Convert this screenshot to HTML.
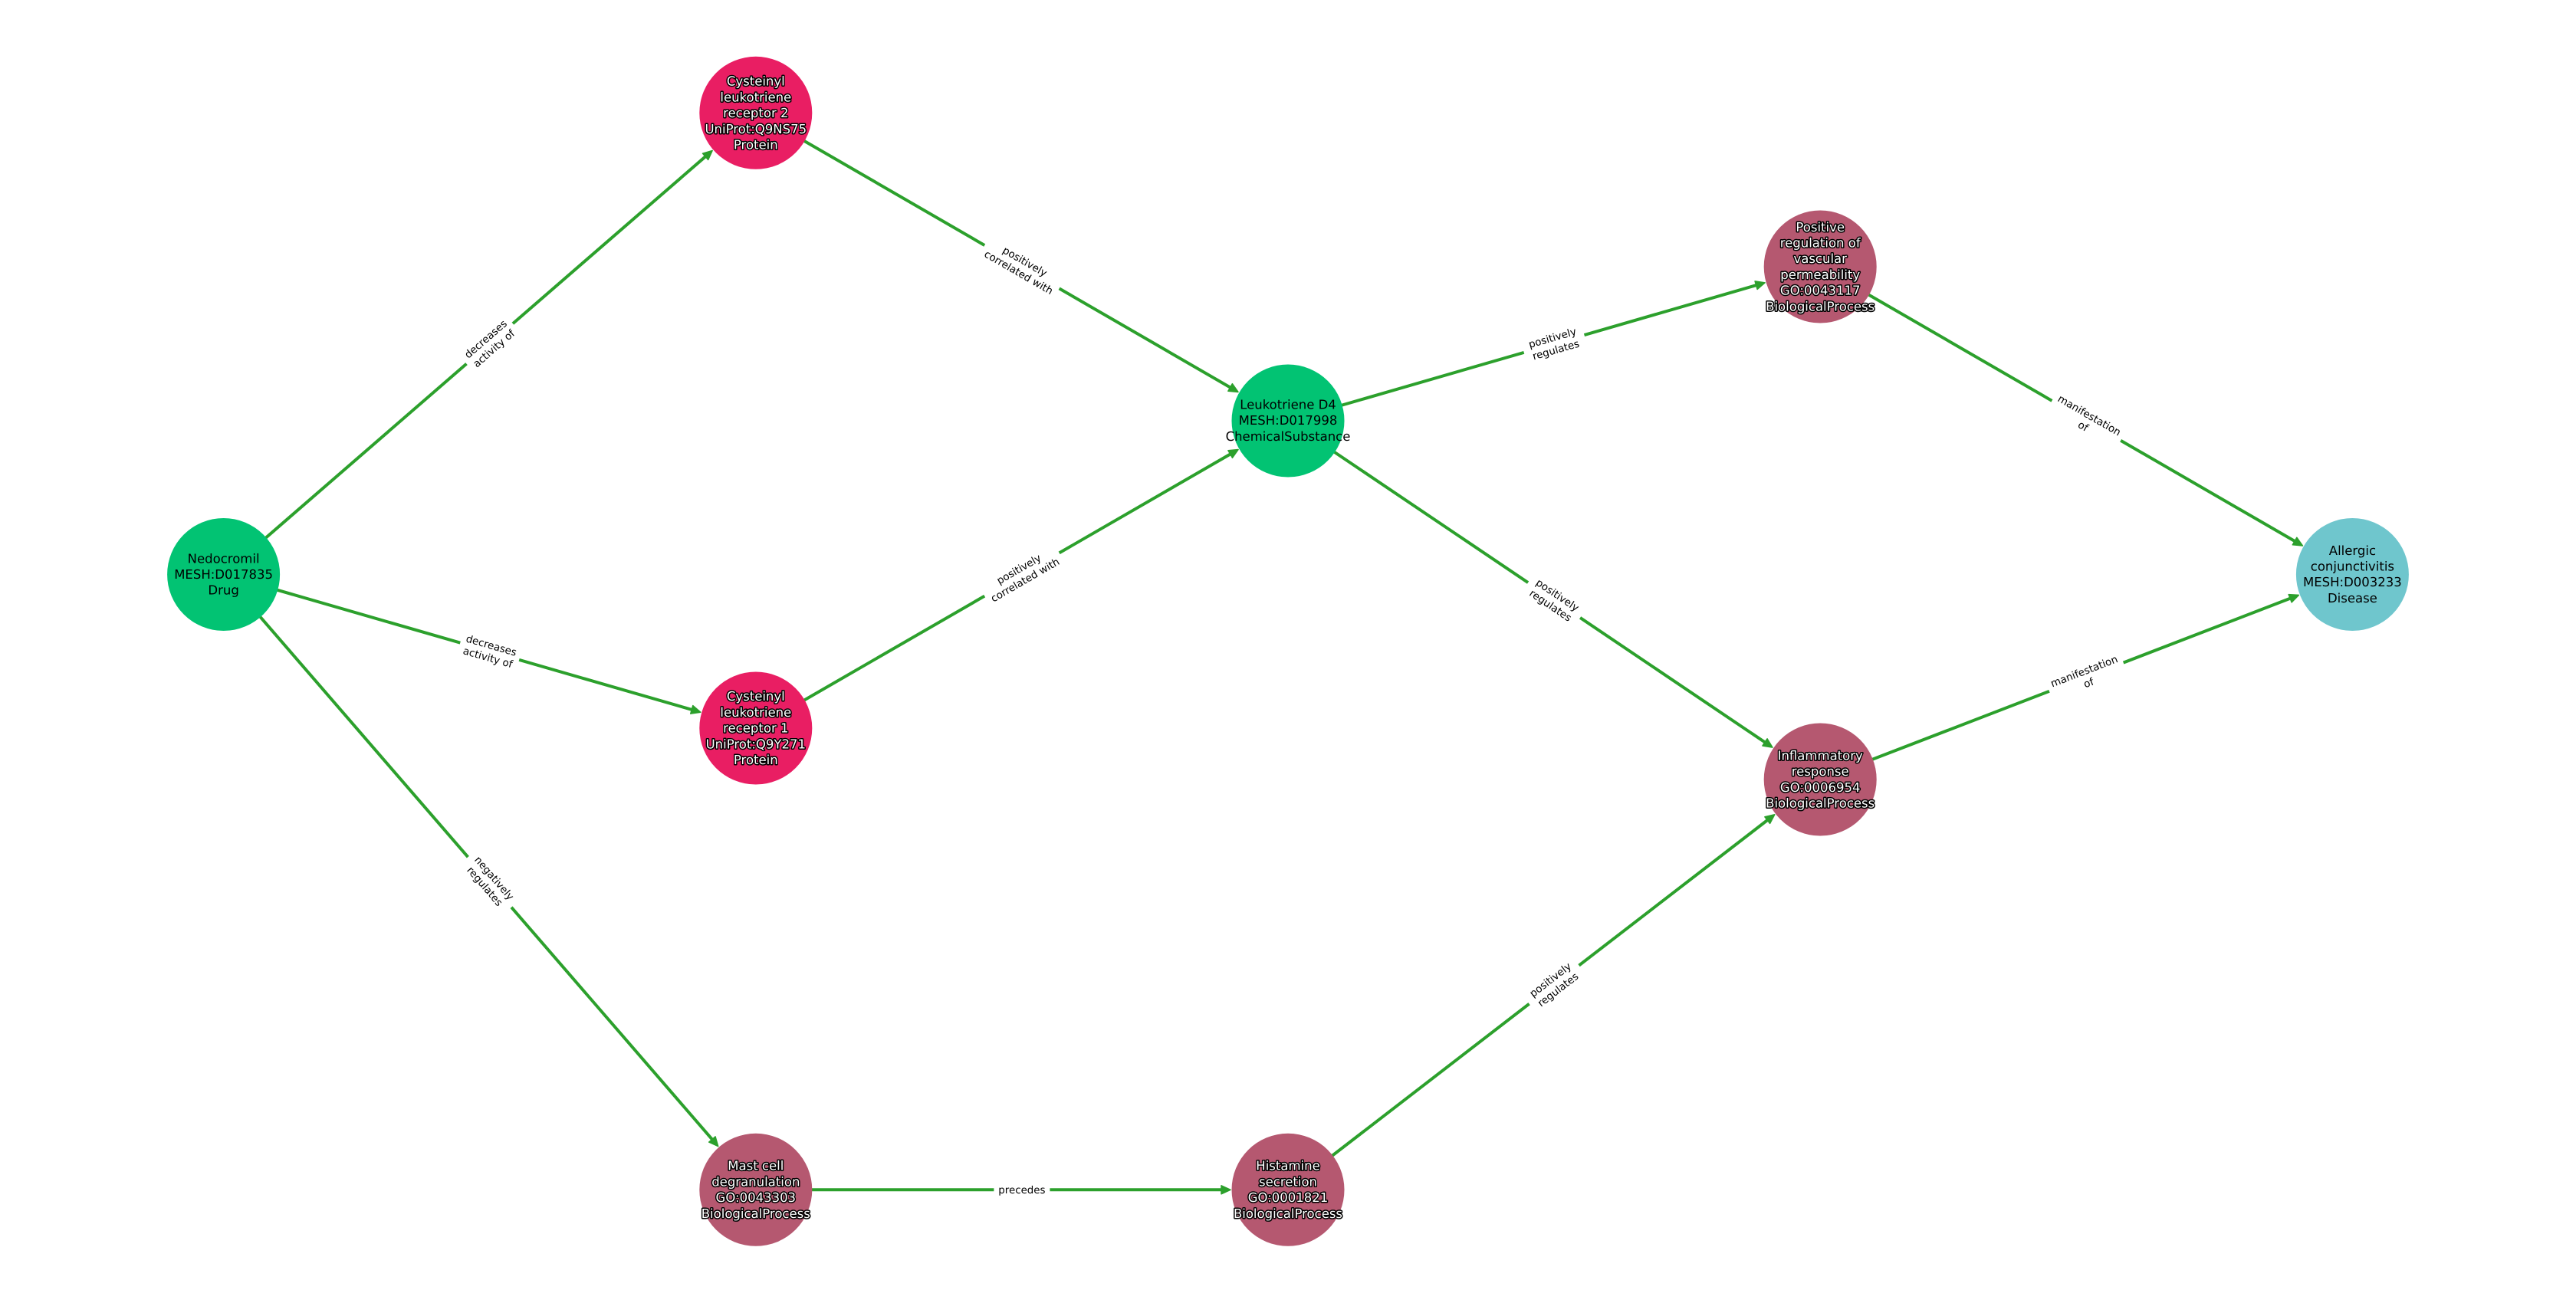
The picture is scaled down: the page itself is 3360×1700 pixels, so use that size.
<!DOCTYPE html>
<html><head><meta charset="utf-8"><style>
html,body{margin:0;padding:0;background:#fff}
svg{display:block}
text{font-family:"DejaVu Sans","Liberation Sans",sans-serif;text-anchor:middle;text-rendering:geometricPrecision}
.n{font-size:16.5px;fill:#000}
.o{font-size:16.5px;fill:#fff;stroke:#000;stroke-width:3px;paint-order:stroke;stroke-linejoin:round}
.e{font-size:13.4px;fill:#000}
.l{stroke:#2ca02c;stroke-width:4;fill:none}
.a{fill:#2ca02c;stroke:#2ca02c;stroke-width:1.5;stroke-linejoin:round}
</style></head><body>
<svg width="3360" height="1700" viewBox="0 0 3360 1700" xmlns="http://www.w3.org/2000/svg">
<rect width="3360" height="1700" fill="#fff"/>

<g transform="translate(291.6 749.5) rotate(-40.94)">
<path class="l" d="M0 0H836"/><polygon class="a" points="844,0 832,-5.5 832,5.5"/>
<rect x="419.5" y="-19" width="80" height="38" fill="#fff"/>
<text class="e" transform="translate(459.5 0)"><tspan x="0" y="-3.4">decreases</tspan><tspan x="0" y="12.9">activity of</tspan></text></g>

<g transform="translate(291.6 749.5) rotate(16.11)">
<path class="l" d="M0 0H640"/><polygon class="a" points="647.6,0 635.6,-5.5 635.6,5.5"/>
<rect x="321.3" y="-19" width="80" height="38" fill="#fff"/>
<text class="e" transform="translate(361.3 0)"><tspan x="0" y="-3.4">decreases</tspan><tspan x="0" y="12.9">activity of</tspan></text></g>

<g transform="translate(291.6 749.5) rotate(49.15)">
<path class="l" d="M0 0H978"/><polygon class="a" points="986.3,0 974.3,-5.5 974.3,5.5"/>
<rect x="487.35" y="-19" width="86.6" height="38" fill="#fff"/>
<text class="e" transform="translate(530.65 0)"><tspan x="0" y="-3.4">negatively</tspan><tspan x="0" y="12.9">regulates</tspan></text></g>

<g transform="translate(985.8 147.3) rotate(30.06)">
<path class="l" d="M0 0H719"/><polygon class="a" points="727,0 715,-5.5 715,5.5"/>
<rect x="344.8" y="-19" width="112.5" height="38" fill="#fff"/>
<text class="e" transform="translate(401 0)"><tspan x="0" y="-3.4">positively</tspan><tspan x="0" y="12.9">correlated with</tspan></text></g>

<g transform="translate(985.8 950) rotate(-30.01)">
<path class="l" d="M0 0H719"/><polygon class="a" points="726.7,0 714.7,-5.5 714.7,5.5"/>
<rect x="344.6" y="-19" width="112.5" height="38" fill="#fff"/>
<text class="e" transform="translate(400.85 0)"><tspan x="0" y="-3.4">positively</tspan><tspan x="0" y="12.9">correlated with</tspan></text></g>

<g transform="translate(985.8 1552.3)">
<path class="l" d="M0 0H611"/><polygon class="a" points="619.2,0 607.2,-5.5 607.2,5.5"/>
<rect x="310.6" y="-12" width="73" height="24" fill="#fff"/>
<text class="e" x="347.1" y="4.9">precedes</text></g>

<g transform="translate(1680 549) rotate(-16.15)">
<path class="l" d="M0 0H640"/><polygon class="a" points="647.7,0 635.7,-5.5 635.7,5.5"/>
<rect x="320.35" y="-19" width="82" height="38" fill="#fff"/>
<text class="e" transform="translate(361.35 0)"><tspan x="0" y="-3.4">positively</tspan><tspan x="0" y="12.9">regulates</tspan></text></g>

<g transform="translate(1680 549) rotate(33.99)">
<path class="l" d="M0 0H754"/><polygon class="a" points="762.2,0 750.2,-5.5 750.2,5.5"/>
<rect x="377.6" y="-19" width="82" height="38" fill="#fff"/>
<text class="e" transform="translate(418.6 0)"><tspan x="0" y="-3.4">positively</tspan><tspan x="0" y="12.9">regulates</tspan></text></g>

<g transform="translate(1680 1552.3) rotate(-37.64)">
<path class="l" d="M0 0H793"/><polygon class="a" points="801.6,0 789.6,-5.5 789.6,5.5"/>
<rect x="397.3" y="-19" width="82" height="38" fill="#fff"/>
<text class="e" transform="translate(438.3 0)"><tspan x="0" y="-3.4">positively</tspan><tspan x="0" y="12.9">regulates</tspan></text></g>

<g transform="translate(2374.2 348) rotate(30.05)">
<path class="l" d="M0 0H719"/><polygon class="a" points="727,0 715,-5.5 715,5.5"/>
<rect x="349.2" y="-19" width="103.6" height="38" fill="#fff"/>
<text class="e" transform="translate(401 0)"><tspan x="0" y="-3.4">manifestation</tspan><tspan x="0" y="12.9">of</tspan></text></g>

<g transform="translate(2374.2 1017) rotate(-21.08)">
<path class="l" d="M0 0H661"/><polygon class="a" points="668.9,0 656.9,-5.5 656.9,5.5"/>
<rect x="320.2" y="-19" width="103.6" height="38" fill="#fff"/>
<text class="e" transform="translate(372 0)"><tspan x="0" y="-3.4">manifestation</tspan><tspan x="0" y="12.9">of</tspan></text></g>

<circle cx="291.6" cy="749.5" r="73.5" fill="#02c373"/>
<text class="n"><tspan x="291.6" y="734.3">Nedocromil</tspan><tspan x="291.6" dy="20.7">MESH:D017835</tspan><tspan x="291.6" dy="20.7">Drug</tspan></text>

<circle cx="985.8" cy="147.3" r="73.5" fill="#e91e63"/>
<text class="o"><tspan x="985.8" y="111.7">Cysteinyl</tspan><tspan x="985.8" dy="20.7">leukotriene</tspan><tspan x="985.8" dy="20.7">receptor 2</tspan><tspan x="985.8" dy="20.7">UniProt:Q9NS75</tspan><tspan x="985.8" dy="20.7">Protein</tspan></text>

<circle cx="985.8" cy="950" r="73.5" fill="#e91e63"/>
<text class="o"><tspan x="985.8" y="914.2">Cysteinyl</tspan><tspan x="985.8" dy="20.7">leukotriene</tspan><tspan x="985.8" dy="20.7">receptor 1</tspan><tspan x="985.8" dy="20.7">UniProt:Q9Y271</tspan><tspan x="985.8" dy="20.7">Protein</tspan></text>

<circle cx="985.8" cy="1552.3" r="73.5" fill="#b55870"/>
<text class="o"><tspan x="985.8" y="1526.7">Mast cell</tspan><tspan x="985.8" dy="20.7">degranulation</tspan><tspan x="985.8" dy="20.7">GO:0043303</tspan><tspan x="985.8" dy="20.7">BiologicalProcess</tspan></text>

<circle cx="1680" cy="549" r="73.5" fill="#02c373"/>
<text class="n"><tspan x="1680" y="533.5">Leukotriene D4</tspan><tspan x="1680" dy="20.7">MESH:D017998</tspan><tspan x="1680" dy="20.7">ChemicalSubstance</tspan></text>

<circle cx="1680" cy="1552.3" r="73.5" fill="#b55870"/>
<text class="o"><tspan x="1680" y="1526.7">Histamine</tspan><tspan x="1680" dy="20.7">secretion</tspan><tspan x="1680" dy="20.7">GO:0001821</tspan><tspan x="1680" dy="20.7">BiologicalProcess</tspan></text>

<circle cx="2374.2" cy="348" r="73.5" fill="#b55870"/>
<text class="o"><tspan x="2374.2" y="301.8">Positive</tspan><tspan x="2374.2" dy="20.7">regulation of</tspan><tspan x="2374.2" dy="20.7">vascular</tspan><tspan x="2374.2" dy="20.7">permeability</tspan><tspan x="2374.2" dy="20.7">GO:0043117</tspan><tspan x="2374.2" dy="20.7">BiologicalProcess</tspan></text>

<circle cx="2374.2" cy="1017" r="73.5" fill="#b55870"/>
<text class="o"><tspan x="2374.2" y="991.4">Inflammatory</tspan><tspan x="2374.2" dy="20.7">response</tspan><tspan x="2374.2" dy="20.7">GO:0006954</tspan><tspan x="2374.2" dy="20.7">BiologicalProcess</tspan></text>

<circle cx="3068.4" cy="749.5" r="73.5" fill="#6fc6cd"/>
<text class="n"><tspan x="3068.4" y="723.8">Allergic</tspan><tspan x="3068.4" dy="20.7">conjunctivitis</tspan><tspan x="3068.4" dy="20.7">MESH:D003233</tspan><tspan x="3068.4" dy="20.7">Disease</tspan></text>
</svg>
</body></html>
